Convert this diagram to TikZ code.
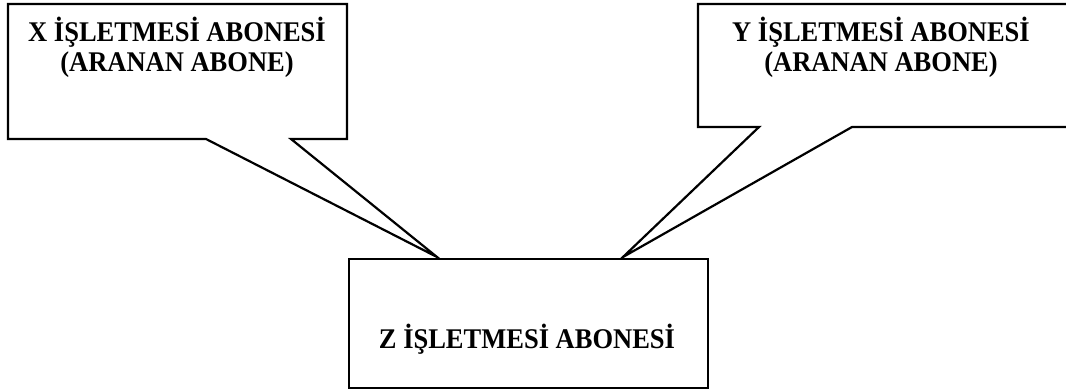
\documentclass[tikz,border=0pt]{standalone}
\usepackage{fontspec}
\setmainfont{Liberation Serif}[BoldFeatures={FakeStretch=0.93}]
\begin{document}
\begin{tikzpicture}[x=1pt,y=-1pt,
  shapeline/.style={draw=black,line width=2.2pt,fill=white,line join=miter},
  label/.style={anchor=base,inner sep=0pt,font=\fontsize{28.5}{30}\selectfont\bfseries}]
\useasboundingbox (0,0) rectangle (1066,390);
% left callout
\draw[shapeline] (8,4) -- (347,4) -- (347,139) -- (291,139) -- (437,257) -- (206,139) -- (8,139) -- cycle;
% right callout
\draw[shapeline] (698,4) -- (1075,4) -- (1075,127) -- (852,127) -- (623,257) -- (759,127) -- (698,127) -- cycle;
% bottom box
\draw[shapeline] (349,259) rectangle (708,388);
\node[label] (x1) at (177,42) {X İŞLETMESİ ABONESİ};
\node[label] (x2) at (177,72) {(ARANAN ABONE)};
\node[label] (y1) at (881,42) {Y İŞLETMESİ ABONESİ};
\node[label] (y2) at (881,72) {(ARANAN ABONE)};
\node[label] (z) at (527,348) {Z İŞLETMESİ ABONESİ};
\end{tikzpicture}
\end{document}
